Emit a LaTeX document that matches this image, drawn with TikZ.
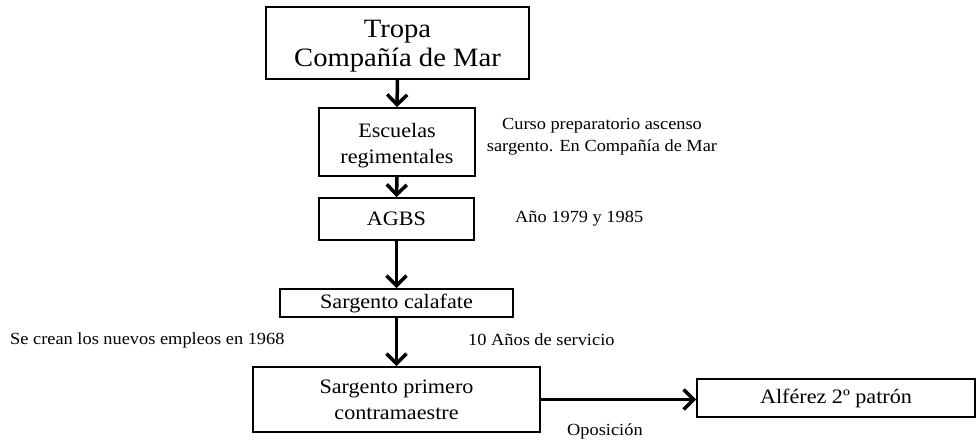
\documentclass[tikz,border=0pt]{standalone}
\usepackage{fontspec}
\setmainfont{Liberation Serif}[FakeStretch=1.08]
\usetikzlibrary{arrows.meta}
\begin{document}
\begin{tikzpicture}[x=1pt,y=-1pt,
  box/.style={draw, line width=1.8pt, align=center, inner sep=0pt, font=\fontsize{20.5}{26}\selectfont},
  lbl/.style={inner sep=0pt, anchor=base west, font=\fontsize{17}{22}\selectfont},
  arr/.style={line width=3.5pt, -{Straight Barb[length=10pt,width=20pt]}}]
\useasboundingbox (0,0) rectangle (977,441);
\node[box, minimum width=263pt, minimum height=72pt, text height=52pt, font=\fontsize{26.5}{29}\selectfont] (tropa) at (397.5,43) {Tropa\\Compañía de Mar};
\node[box, minimum width=156pt, minimum height=68pt, text height=47pt] (esc) at (397,142) {Escuelas\\regimentales};
\node[box, minimum width=155pt, minimum height=42pt] (agbs) at (396.5,219) {AGBS};
\node[box, minimum width=233pt, minimum height=28pt] (calaf) at (396.5,303) {Sargento calafate};
\node[box, minimum width=287pt, minimum height=65pt] (sp) at (396.5,399.5) {Sargento primero\\contramaestre};
\node[box, minimum width=278pt, minimum height=38pt] (alf) at (836,398) {Alférez 2º patrón};
\draw[arr] (tropa.south) -- (esc.north);
\draw[arr] (esc.south) -- (agbs.north);
\draw[arr] (agbs.south) -- (calaf.north);
\draw[arr] (calaf.south) -- (sp.north);
\draw[arr] (sp.east) -- (sp.east -| alf.west);
\node[inner sep=0pt, align=center, font=\fontsize{17}{22}\selectfont] (curso) at (602,137) {Curso preparatorio ascenso\\sargento. En Compañía de Mar};
\node[lbl] (anio) at (515,222) {Año 1979 y 1985};
\node[lbl] (crean) at (10,344) {Se crean los nuevos empleos en 1968};
\node[lbl] (diez) at (468,345) {10 Años de servicio};
\node[lbl] (opos) at (567,435) {Oposición};
\end{tikzpicture}
\end{document}
